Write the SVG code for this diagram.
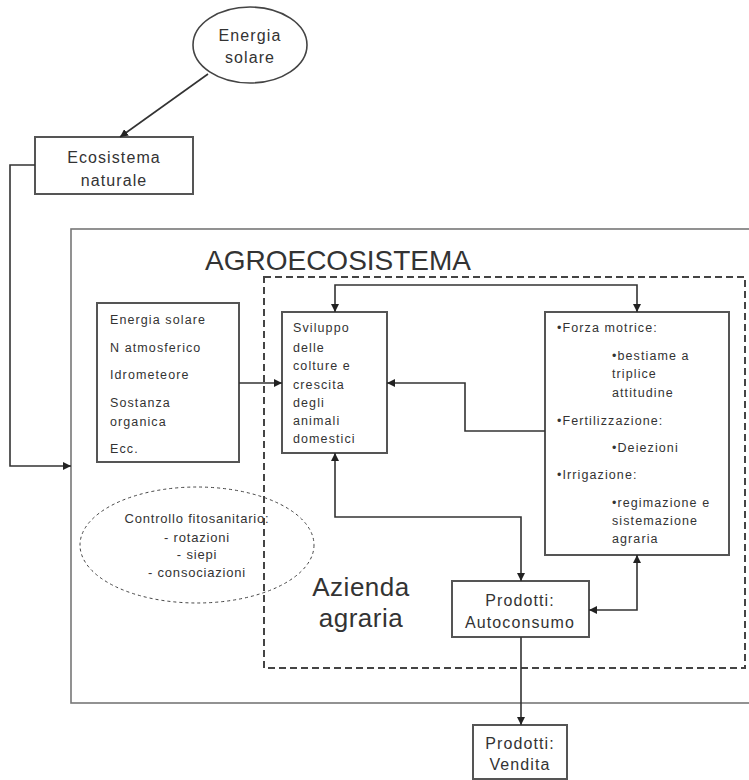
<svg xmlns="http://www.w3.org/2000/svg" width="749" height="780" viewBox="0 0 749 780">
<style>
text{font-family:"Liberation Sans",Arial,sans-serif;fill:#333}
.s{font-size:12.5px;letter-spacing:1.1px}
.c{font-size:13px;letter-spacing:0.8px}
.m{font-size:16px;letter-spacing:1.1px}
.mid{text-anchor:middle}
.box{fill:#fff;stroke:#555;stroke-width:2}
.ln{fill:none;stroke:#333;stroke-width:1.6}
</style>
<defs>
<marker id="ah" viewBox="0 0 8 8" refX="8" refY="4" markerWidth="8" markerHeight="8" markerUnits="userSpaceOnUse" orient="auto-start-reverse">
<path d="M0,0 L8,4 L0,8 z" fill="#222"/>
</marker>
</defs>
<rect width="749" height="780" fill="#fff"/>

<g id="agroecosistema">
<rect x="71" y="229" width="700" height="474" fill="none" stroke="#777" stroke-width="1.6"/>
<text x="205" y="270" style="font-size:28px">AGROECOSISTEMA</text>
</g>

<g id="azienda">
<rect x="264" y="277" width="481" height="391" fill="none" stroke="#444" stroke-width="2" stroke-dasharray="7 4"/>
<text class="mid" x="361" y="596" style="font-size:26px;letter-spacing:0.5px">Azienda</text>
<text class="mid" x="361" y="627" style="font-size:26px;letter-spacing:0.5px">agraria</text>
</g>

<g id="energia">
<ellipse cx="250" cy="45" rx="57" ry="38" fill="#fff" stroke="#444" stroke-width="1.6"/>
<text class="m mid" x="250" y="41">Energia</text>
<text class="m mid" x="250" y="63">solare</text>
</g>

<g id="ecosistema">
<rect class="box" x="35" y="137" width="158" height="57"/>
<text class="m mid" x="114" y="163">Ecosistema</text>
<text class="m mid" x="114" y="186">naturale</text>
</g>

<g id="input">
<rect class="box" x="97" y="303" width="142" height="159"/>
<text class="s" x="110" y="324">Energia solare</text>
<text class="s" x="110" y="352">N atmosferico</text>
<text class="s" x="110" y="379">Idrometeore</text>
<text class="s" x="110" y="407">Sostanza</text>
<text class="s" x="110" y="426">organica</text>
<text class="s" x="110" y="453">Ecc.</text>
</g>

<g id="sviluppo">
<rect class="box" x="282" y="312" width="105" height="141"/>
<text class="s" x="293" y="332">Sviluppo</text>
<text class="s" x="293" y="352">delle</text>
<text class="s" x="293" y="370">colture e</text>
<text class="s" x="293" y="389">crescita</text>
<text class="s" x="293" y="407">degli</text>
<text class="s" x="293" y="425">animali</text>
<text class="s" x="293" y="443">domestici</text>
</g>

<g id="forza">
<rect class="box" x="545" y="312" width="184" height="243"/>
<text class="s" x="557" y="332">•Forza motrice:</text>
<text class="s" x="612" y="360">•bestiame a</text>
<text class="s" x="612" y="378">triplice</text>
<text class="s" x="612" y="397">attitudine</text>
<text class="s" x="557" y="425">•Fertilizzazione:</text>
<text class="s" x="612" y="452">•Deiezioni</text>
<text class="s" x="557" y="479">•Irrigazione:</text>
<text class="s" x="612" y="507">•regimazione e</text>
<text class="s" x="612" y="525">sistemazione</text>
<text class="s" x="612" y="543">agraria</text>
</g>

<g id="controllo">
<ellipse cx="197" cy="545" rx="117" ry="58" fill="none" stroke="#444" stroke-width="1" stroke-dasharray="3 3"/>
<text class="c mid" x="197" y="523">Controllo fitosanitario:</text>
<text class="c mid" x="197" y="542">- rotazioni</text>
<text class="c mid" x="197" y="559">- siepi</text>
<text class="c mid" x="197" y="577">- consociazioni</text>
</g>

<g id="autoconsumo">
<rect class="box" x="452" y="581" width="137" height="56"/>
<text class="m mid" x="520" y="606">Prodotti:</text>
<text class="m mid" x="520" y="628">Autoconsumo</text>
</g>

<g id="vendita">
<rect class="box" x="473" y="725" width="94" height="54"/>
<text class="m mid" x="520" y="749">Prodotti:</text>
<text class="m mid" x="520" y="770">Vendita</text>
</g>

<g id="connectors">
<path class="ln" d="M208,74 L120,137" marker-end="url(#ah)"/>
<path class="ln" d="M35,165 L10,165 L10,466 L71,466" marker-end="url(#ah)"/>
<path class="ln" d="M239,383 L282,383" marker-end="url(#ah)"/>
<path class="ln" d="M545,431 L465,431 L465,383 L387,383" marker-end="url(#ah)"/>
<path class="ln" d="M335,312 L335,285 L637,285 L637,312" marker-start="url(#ah)" marker-end="url(#ah)"/>
<path class="ln" d="M335,453 L335,517 L521,517 L521,581" marker-start="url(#ah)" marker-end="url(#ah)"/>
<path class="ln" d="M589,610 L637,610 L637,555" marker-start="url(#ah)" marker-end="url(#ah)"/>
<path class="ln" d="M521,637 L521,725" marker-end="url(#ah)"/>
</g>
</svg>
